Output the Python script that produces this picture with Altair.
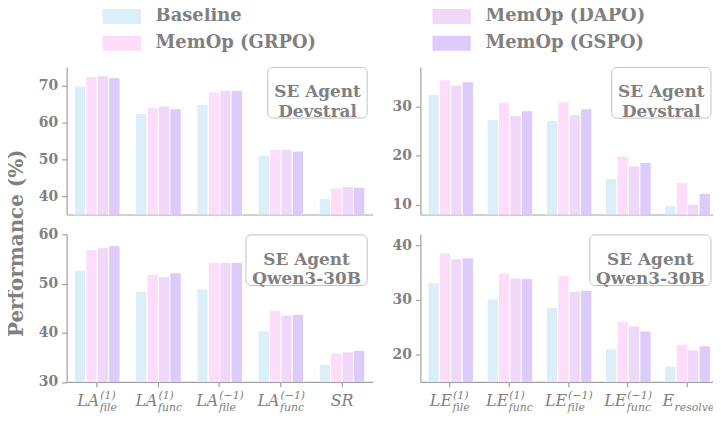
import altair as alt
import pandas as pd

methods = ["Baseline", "MemOp (GRPO)", "MemOp (DAPO)", "MemOp (GSPO)"]
colors = ["#dbeff9", "#fdddfa", "#f0d8fa", "#ddccfb"]

la_cats = ["LA1file", "LA1func", "LAm1file", "LAm1func", "SR"]
le_cats = ["LE1file", "LE1func", "LEm1file", "LEm1func", "Eresolve"]
la_labels = [("LA", "(1)", "file"), ("LA", "(1)", "func"), ("LA", "(\u22121)", "file"),
             ("LA", "(\u22121)", "func"), ("SR", "", "")]
le_labels = [("LE", "(1)", "file"), ("LE", "(1)", "func"), ("LE", "(\u22121)", "file"),
             ("LE", "(\u22121)", "func"), ("E", "", "resolve")]

devstral_la = {
    "Baseline":     [69.8, 62.4, 64.8, 51.1, 39.3],
    "MemOp (GRPO)": [72.4, 64.1, 68.2, 52.6, 42.2],
    "MemOp (DAPO)": [72.6, 64.4, 68.7, 52.6, 42.6],
    "MemOp (GSPO)": [72.1, 63.7, 68.6, 52.2, 42.4],
}
devstral_le = {
    "Baseline":     [32.4, 27.35, 27.1, 15.3, 9.8],
    "MemOp (GRPO)": [35.4, 30.85, 30.9, 19.9, 14.5],
    "MemOp (DAPO)": [34.3, 28.1, 28.3, 17.9, 10.1],
    "MemOp (GSPO)": [35.0, 29.1, 29.5, 18.6, 12.3],
}
qwen_la = {
    "Baseline":     [52.7, 48.45, 48.9, 40.4, 33.6],
    "MemOp (GRPO)": [56.9, 51.9, 54.3, 44.5, 35.9],
    "MemOp (DAPO)": [57.3, 51.4, 54.3, 43.6, 36.1],
    "MemOp (GSPO)": [57.7, 52.2, 54.3, 43.7, 36.4],
}
qwen_le = {
    "Baseline":     [33.15, 30.2, 28.6, 21.0, 17.9],
    "MemOp (GRPO)": [38.6, 34.9, 34.5, 26.1, 21.9],
    "MemOp (DAPO)": [37.55, 34.0, 31.6, 25.25, 20.85],
    "MemOp (GSPO)": [37.7, 33.9, 31.75, 24.3, 21.6],
}

W_LEFT, W_RIGHT, H = 308, 298, 148.5
FONT = "DejaVu Serif"
GRAY = "#808080"
SPINE = "#a0a0a0"
BASE_FS, SCRIPT_FS = 16, 11

CW = {"L": .64, "A": .72, "E": .73, "S": .65, "R": .73, "(": .39, ")": .39, "1": .64,
      "\u2212": .84, "f": .35, "i": .32, "l": .32, "e": .59, "u": .64, "n": .64,
      "c": .56, "r": .48, "s": .51, "o": .6, "v": .59}


def tw(s, fs):
    return sum(CW.get(ch, .6) for ch in s) * fs * 0.9


legend = alt.Legend(
    title=None, orient="none", legendX=46.5, legendY=-59.8, columns=2, columnPadding=116,
    rowPadding=9, symbolType="M-2.573,-1H2.573V1H-2.573Z", symbolSize=225,
    symbolStrokeWidth=0, symbolOpacity=1, labelFont=FONT, labelFontSize=18,
    labelFontWeight="bold", labelColor=GRAY, labelOffset=25, labelLimit=400,
)


def panel(cats, labels, vals, domain, ticks, agent, box_w, bottom, left, W):
    rows = []
    for m in methods:
        for c, v in zip(cats, vals[m]):
            rows.append({"cat": c, "method": m, "value": v})
    df = pd.DataFrame(rows)
    xscale = alt.Scale(domain=cats, paddingInner=0.254, paddingOuter=0.127)
    xaxis = alt.Axis(title=None, labels=False, ticks=bottom, tickSize=5, grid=False)
    if left:
        yaxis = alt.Axis(values=ticks, title="Performance (%)", titleX=-50, titleY=177,
                         titleAngle=270, titleAlign="center", titleBaseline="middle",
                         titleFont=FONT, titleFontSize=20, titleFontWeight="bold",
                         titleColor=GRAY, grid=False)
    else:
        yaxis = alt.Axis(values=ticks, title=None, grid=False)
    xenc = alt.X("cat:N", scale=xscale, axis=xaxis)

    bars = alt.Chart(df).mark_bar(clip=True, stroke="white", strokeWidth=1).encode(
        x=xenc,
        xOffset=alt.XOffset("method:N", sort=methods,
                            scale=alt.Scale(domain=methods, paddingInner=0, paddingOuter=0)),
        y=alt.Y("value:Q", scale=alt.Scale(domain=domain, zero=False, nice=False), axis=yaxis),
        color=alt.Color("method:N", sort=methods,
                        scale=alt.Scale(domain=methods, range=colors), legend=legend),
    )
    box_df = pd.DataFrame({"agent": [agent]})
    box = alt.Chart(box_df).mark_rect(fill="white", fillOpacity=0.85, stroke="#c4c4c4",
                                      strokeWidth=1, cornerRadius=5).encode(
        x=alt.value(W - 5.5 - box_w), x2=alt.value(W - 5.5),
        y=alt.value(0.5), y2=alt.value(51.5))
    box_txt = alt.Chart(box_df).mark_text(
        font=FONT, fontSize=17, fontWeight="bold", color=GRAY, lineBreak="\n",
        lineHeight=19.6, align="center", baseline="middle").encode(
        text="agent:N", x=alt.value(W - 5.5 - box_w / 2), y=alt.value(25.7))
    layers = [bars, box, box_txt]

    if bottom:
        for c, (b, sup, sub) in zip(cats, labels):
            ldf = pd.DataFrame({"cat": [c], "b": [b], "sup": [sup], "sub": [sub]})
            bw = tw(b, BASE_FS)
            sw = max(tw(sup, SCRIPT_FS), tw(sub, SCRIPT_FS))
            jx = -(bw + sw) / 2 + bw
            common = dict(font=FONT, fontStyle="italic", color=GRAY, baseline="alphabetic")
            if sup or sub:
                layers.append(alt.Chart(ldf).mark_text(
                    align="right", dx=jx, fontSize=BASE_FS, **common).encode(
                    x=xenc, y=alt.value(H + 24.5), text="b:N"))
                if sup:
                    layers.append(alt.Chart(ldf).mark_text(
                        align="left", dx=jx + 1, fontSize=SCRIPT_FS, **common).encode(
                        x=xenc, y=alt.value(H + 17.5), text="sup:N"))
                if sub:
                    layers.append(alt.Chart(ldf).mark_text(
                        align="left", dx=jx + 0.5, fontSize=SCRIPT_FS, **common).encode(
                        x=xenc, y=alt.value(H + 29), text="sub:N"))
            else:
                layers.append(alt.Chart(ldf).mark_text(
                    align="center", fontSize=BASE_FS, **common).encode(
                    x=xenc, y=alt.value(H + 24.5), text="b:N"))
    return alt.layer(*layers).properties(width=W, height=H)


p1 = panel(la_cats, la_labels, devstral_la, [35, 75], [40, 50, 60, 70],
           "SE Agent\nDevstral", 100, False, True, W_LEFT)
p2 = panel(le_cats, le_labels, devstral_le, [8, 38], [10, 20, 30],
           "SE Agent\nDevstral", 100, False, False, W_RIGHT)
p3 = panel(la_cats, la_labels, qwen_la, [30, 60], [30, 40, 50, 60],
           "SE Agent\nQwen3-30B", 122, True, False, W_LEFT)
p4 = panel(le_cats, le_labels, qwen_le, [15, 42], [20, 30, 40],
           "SE Agent\nQwen3-30B", 122, True, False, W_RIGHT)

chart = alt.concat(
    p1, p2, p3, p4, columns=2, spacing={"row": 19.5, "column": 48}, bounds="flush",
    padding={"left": -1, "top": -2, "right": -3.5, "bottom": 0},
).configure_view(
    stroke=None
).configure_axis(
    labelFont=FONT, labelFontSize=14, labelFontWeight="bold", labelColor=GRAY,
    domainColor=SPINE, domainWidth=1.2, tickColor=SPINE, tickWidth=1.2, tickSize=5,
    labelPadding=4,
)

chart.save("out.html", embed_options={"renderer": "svg", "actions": False})
